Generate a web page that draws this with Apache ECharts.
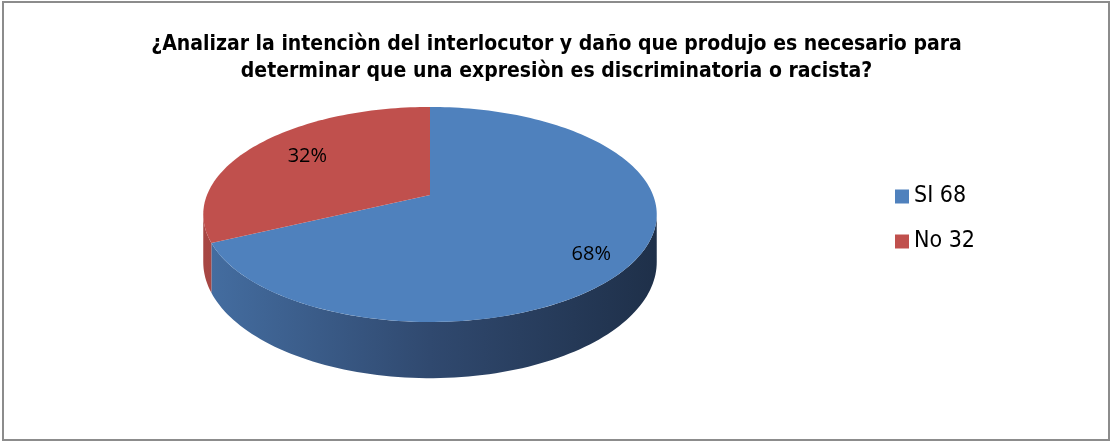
<!DOCTYPE html>
<html>
<head>
<meta charset="utf-8">
<script src="https://cdn.jsdelivr.net/npm/echarts@6/dist/echarts.min.js"></script>
<style>
  html, body { margin: 0; padding: 0; background: #fff; }
  #chart { width: 1113px; height: 443px; }
</style>
</head>
<body>
<div id="chart"></div>
<script>
const titleText = '¿Analizar la intenciòn del interlocutor y daño que produjo es necesario para\ndeterminar que una expresiòn es discriminatoria o racista?';
const categories = ['SI 68', 'No 32'];
const values = [68, 32];
const labels = ['68%', '32%'];
const topColors = ['#4f81bd', '#c0504d'];
const sideColors = [['#456fa3', '#30496f', '#1e2f48'], ['#a84744', '#8f3c3a', '#7a3230']];

const total = values.reduce((a, b) => a + b, 0);
// start/end angle of each slice, clockwise from 12 o'clock (degrees)
const spans = [];
let acc = 0;
values.forEach(v => {
  spans.push([acc / total * 360, (acc + v) / total * 360]);
  acc += v;
});

// simple perspective projection of the tilted disc
const P = { cx: 430, cy: 195, A: 223, B: 104, k: 0.181, depth: 46 };
function proj(deg, r, z) {
  const t = deg * Math.PI / 180;
  const u = r * Math.sin(t);
  const v = -r * Math.cos(t);
  const w = 1 - P.k * v;
  return [P.cx + P.A * u / w, P.cy + (P.B * v + z * P.depth) / w];
}
function arc(a0, a1, z) {
  const pts = [];
  const n = Math.max(2, Math.ceil(Math.abs(a1 - a0) / 1.5));
  for (let i = 0; i <= n; i++) pts.push(proj(a0 + (a1 - a0) * i / n, 1, z));
  return pts;
}
// angles where the outline is widest -> visible side wall lies between them
const silR = Math.acos(-P.k) * 180 / Math.PI;
const silL = 360 - silR;

const chart = echarts.init(document.getElementById('chart'));

chart.setOption({
  backgroundColor: '#fff',
  animation: false,
  title: {
    text: titleText,
    left: 'center',
    top: 26,
    textStyle: {
      fontFamily: '"Liberation Sans Narrow", "DejaVu Sans Condensed", sans-serif',
      fontSize: 21, fontWeight: 'bold', color: '#000', lineHeight: 27,
    },
  },
  legend: {
    orient: 'vertical',
    left: 890,
    top: 180,
    icon: 'rect',
    itemWidth: 14,
    itemHeight: 14,
    itemGap: 22,
    data: categories,
    textStyle: {
      fontFamily: '"Liberation Sans Narrow", "DejaVu Sans Condensed", sans-serif',
      fontSize: 23, color: '#000',
    },
  },
  graphic: [{
    type: 'rect', silent: true, z: -1,
    shape: { x: 3, y: 2, width: 1106, height: 438 },
    style: { fill: 'none', stroke: '#8c8c8c', lineWidth: 2 },
  }],
  series: [
    // legend provider only (not drawn)
    {
      type: 'pie', radius: [0, 0], center: [-100, -100], silent: true,
      label: { show: false }, labelLine: { show: false },
      data: categories.map((c, i) => ({ name: c, value: values[i], itemStyle: { color: topColors[i] } })),
    },
    // front side walls
    {
      type: 'custom', coordinateSystem: 'none', z: 1, silent: true,
      data: values,
      renderItem: (params) => {
        const i = params.dataIndex;
        const a0 = Math.max(spans[i][0], silR);
        const a1 = Math.min(spans[i][1], silL);
        if (a1 <= a0) return { type: 'group', children: [] };
        const top = arc(a0, a1, 0);
        const bottom = arc(a0, a1, 1).reverse();
        const c = sideColors[i];
        const x0 = P.cx - P.A - 10, x1 = P.cx + P.A + 10;
        return {
          type: 'polygon',
          shape: { points: top.concat(bottom) },
          style: {
            fill: new echarts.graphic.LinearGradient(x0, 0, x1, 0, [
              { offset: 0, color: c[0] }, { offset: 0.5, color: c[1] }, { offset: 1, color: c[2] },
            ], true),
          },
        };
      },
    },
    // top face + percent labels
    {
      type: 'custom', coordinateSystem: 'none', z: 2, silent: true,
      data: values,
      renderItem: (params) => {
        const i = params.dataIndex;
        const [a0, a1] = spans[i];
        const pts = [proj(0, 0, 0)].concat(arc(a0, a1, 0));
        const mid = (a0 + a1) / 2;
        const lp = proj(mid, 0.75, 0);
        // front slices get their label pushed down a bit (towards the side wall)
        const front = Math.max(-Math.cos(mid * Math.PI / 180), 0);
        return {
          type: 'group',
          children: [
            { type: 'polygon', shape: { points: pts }, style: { fill: topColors[i] } },
            {
              type: 'text', z2: 10,
              x: lp[0] + 9, y: lp[1] + 26 * front,
              style: {
                text: labels[i], fill: '#000', align: 'center', verticalAlign: 'middle',
                fontFamily: '"Open Sans", sans-serif', fontSize: 20,
              },
            },
          ],
        };
      },
    },
  ],
});
</script>
</body>
</html>
